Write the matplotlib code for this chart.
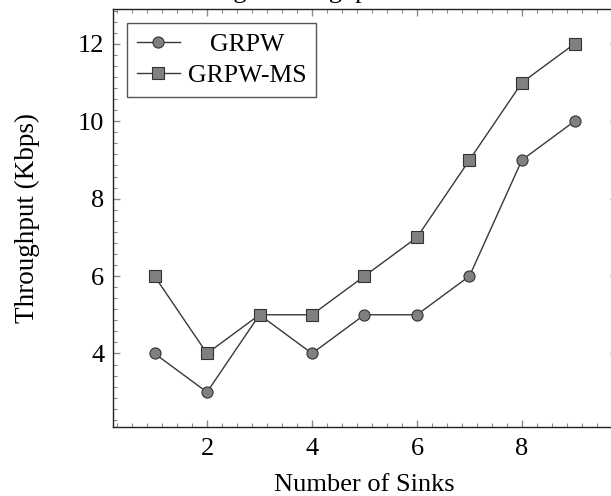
import matplotlib
matplotlib.use("Agg")
import matplotlib.pyplot as plt
from matplotlib.ticker import MultipleLocator, AutoMinorLocator
from matplotlib.transforms import Affine2D

plt.rcParams['font.family'] = ['Liberation Serif', 'DejaVu Serif']

# data
sinks = [1, 2, 3, 4, 5, 6, 7, 8, 9]
grpw = [4, 3, 5, 4, 5, 5, 6, 9, 10]
grpw_ms = [6, 4, 5, 5, 6, 7, 9, 11, 12]

fig = plt.figure(figsize=(6.11, 4.96), dpi=100)
ax = fig.add_axes([112.5 / 611, 69 / 496, 504 / 611, 418 / 496])

line_kw = dict(color='#383838', lw=1.0, markerfacecolor='#808080',
               markeredgecolor='#333333', markeredgewidth=0.8)
ax.plot(sinks, grpw, marker='o', markersize=8, label='GRPW', **line_kw)
ax.plot(sinks, grpw_ms, marker='s', markersize=8, label='GRPW-MS', **line_kw)

ax.set_xlim(0.2, 9.8)
ax.set_ylim(2.1, 12.9)
ax.xaxis.set_major_locator(MultipleLocator(2))
ax.yaxis.set_major_locator(MultipleLocator(2))
ax.xaxis.set_minor_locator(AutoMinorLocator(7))
ax.yaxis.set_minor_locator(AutoMinorLocator(7))
ax.tick_params(which='both', direction='in', top=True, right=True,
               color='#8a8a8a', labelsize=19)
ax.tick_params(which='major', length=5, width=1)
ax.tick_params(which='minor', length=3, width=0.8)
ax.tick_params(axis='x', pad=8)
ax.tick_params(axis='y', pad=6)
for s in ax.spines.values():
    s.set_color('#222222')
    s.set_linewidth(1.0)

ax.set_xlabel('Number of Sinks', fontsize=19, labelpad=10)
ax.set_ylabel('Throughput (Kbps)', fontsize=19.5, labelpad=27)

fig.text(0.458, 1.004, 'Average Throughput', fontsize=19, ha='center', va='baseline')

leg = ax.legend(loc='upper left', fontsize=18.5, fancybox=False, framealpha=1,
                edgecolor='#555555', handlelength=1.67, borderpad=0.4,
                labelspacing=0.28, handletextpad=0.3,
                bbox_to_anchor=(0.0, 1.0), borderaxespad=0.55)
leg.get_frame().set_linewidth(1.0)

# center the legend texts like the original
fig.canvas.draw()
widths = [t.get_window_extent().width for t in leg.get_texts()]
wmax = max(widths)
for t, w in zip(leg.get_texts(), widths):
    t.set_transform(t.get_transform() + Affine2D().translate((wmax - w) / 2, 0))

fig.savefig('out.png', dpi=100)
